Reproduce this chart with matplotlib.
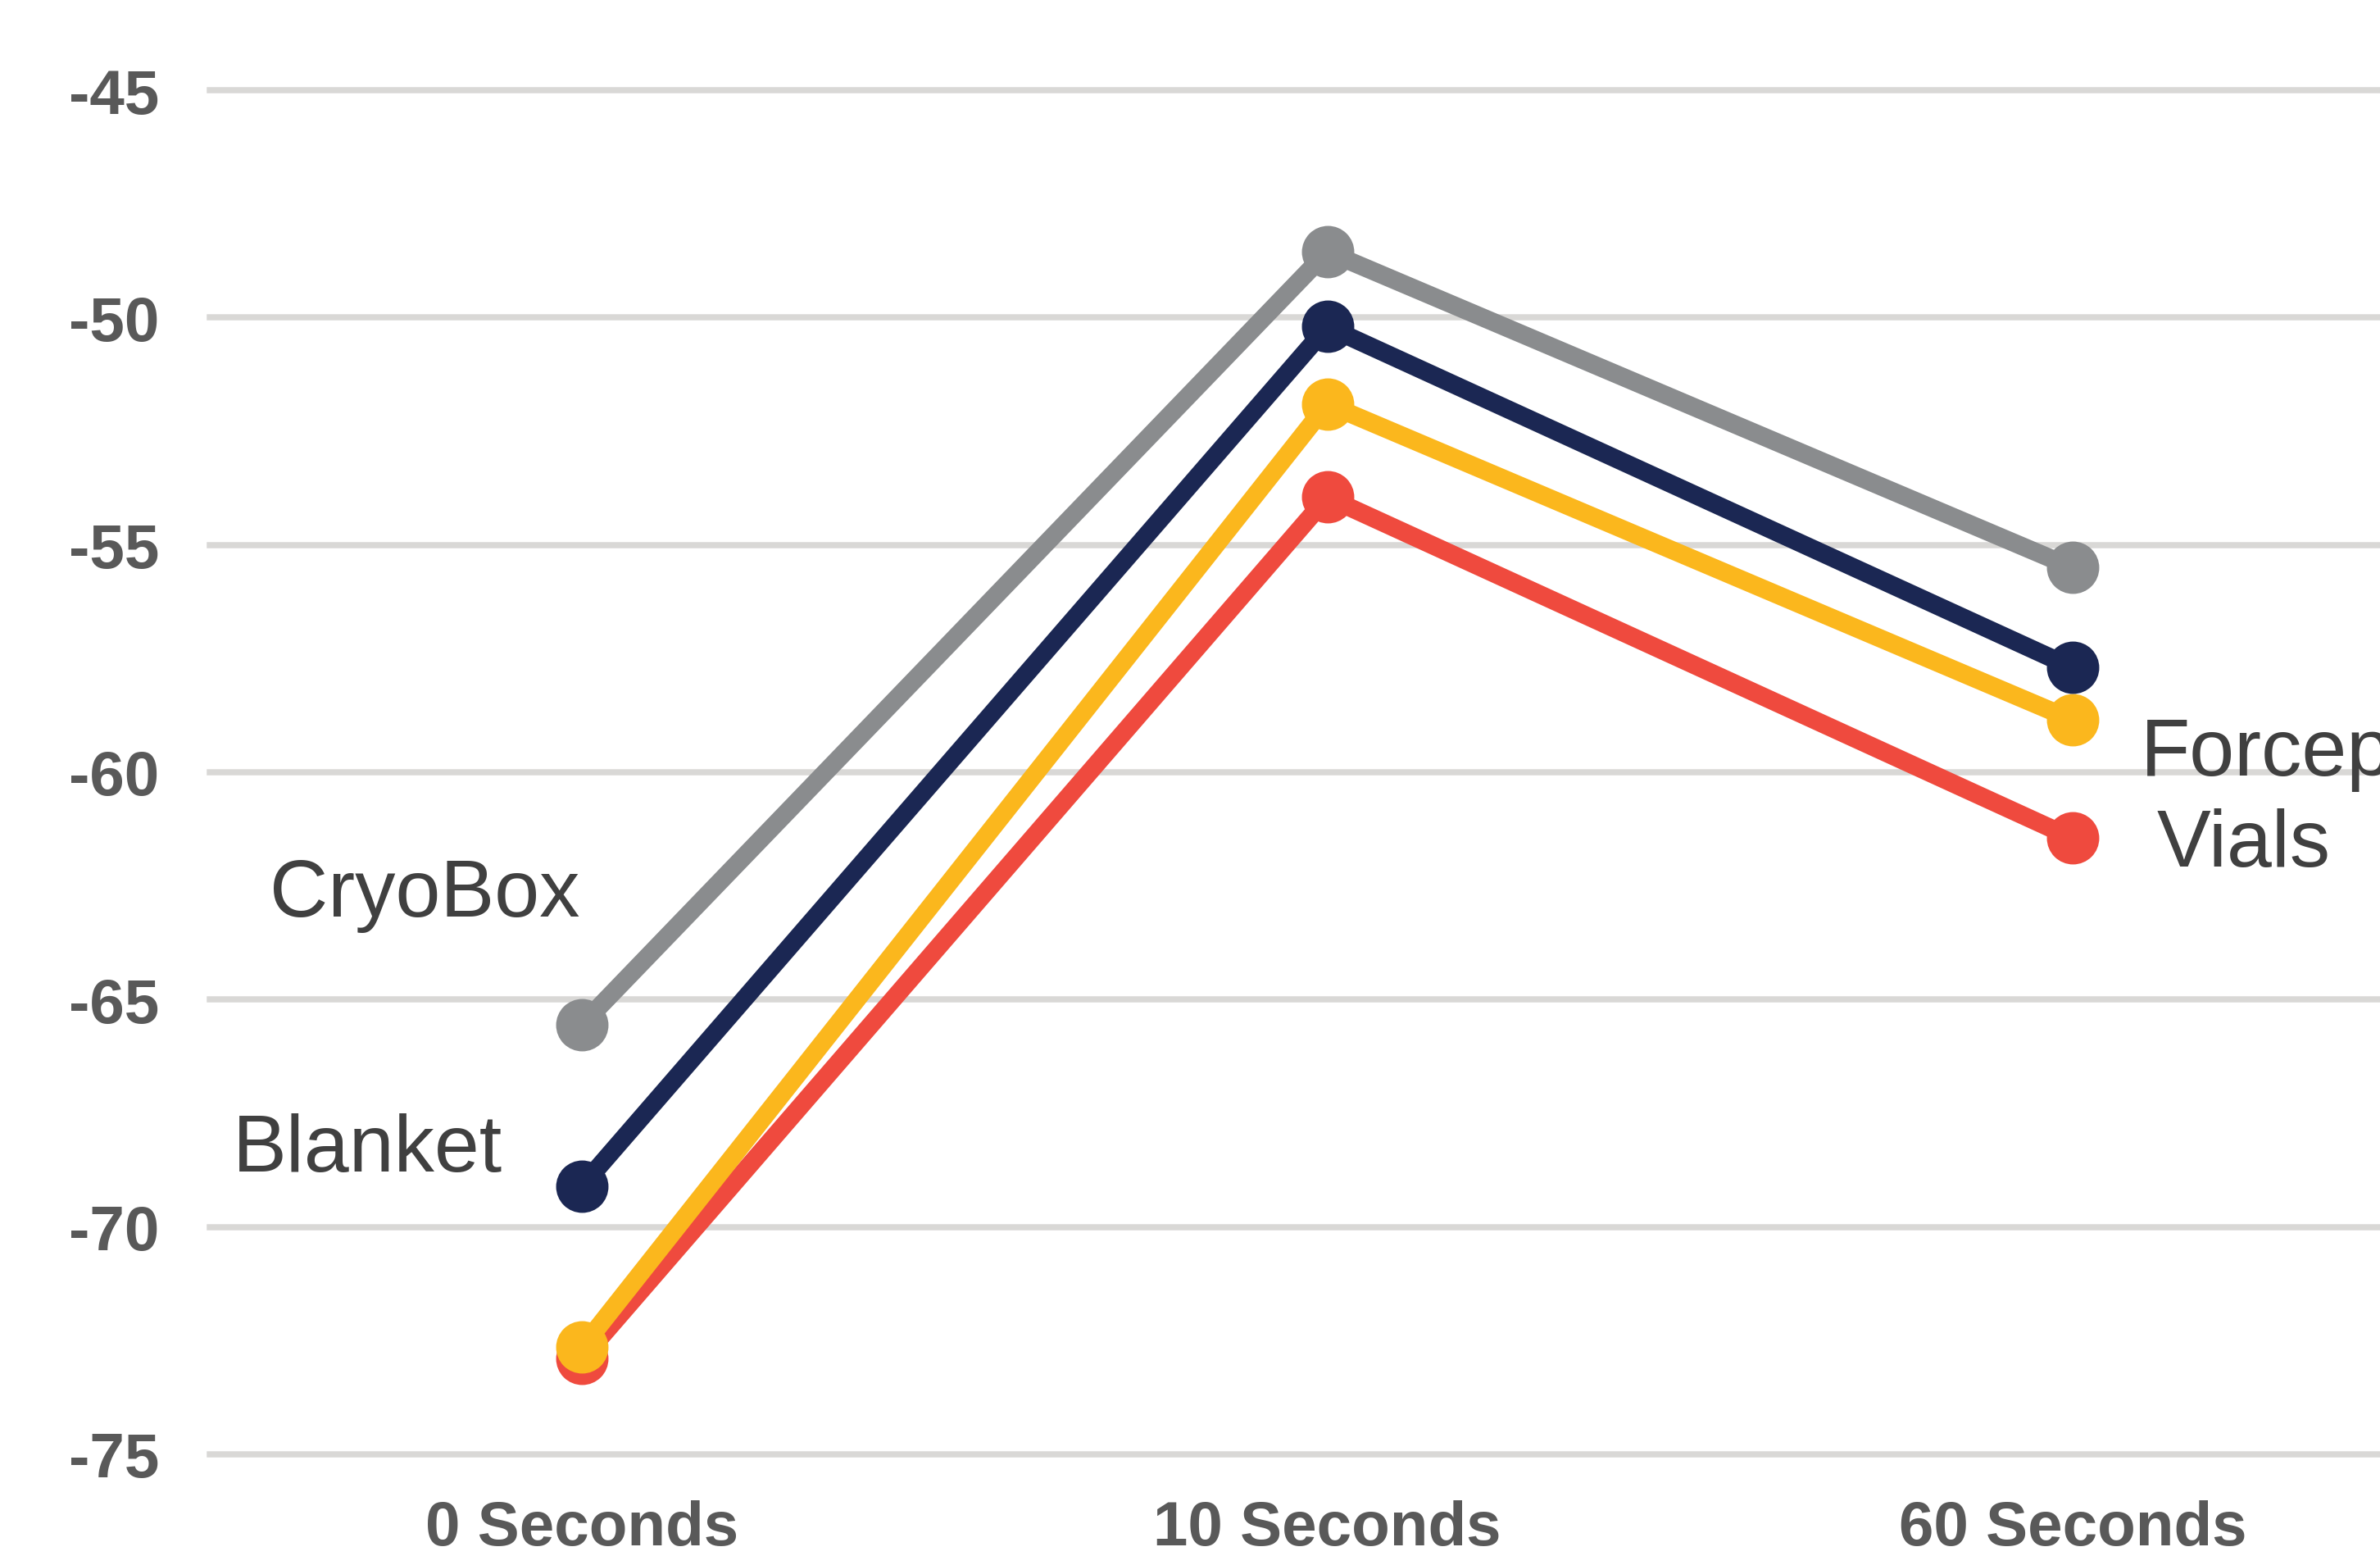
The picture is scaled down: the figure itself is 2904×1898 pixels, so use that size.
import matplotlib.pyplot as plt

plt.rcParams['font.family'] = ['Liberation Sans', 'DejaVu Sans']

## categorias y series
categorias = ["0 Seconds", "10 Seconds", "60 Seconds"]
cryobox = [-65.55, -48.55, -55.5]
blanket = [-69.1, -50.2, -57.7]
forceps = [-72.65, -51.9, -58.85]
vials = [-72.9, -53.95, -61.45]

nombres = ["CryoBox", "Blanket", "Forceps", "Vials"]
colores = ["#8A8C8E", "#1B2753", "#FBB71D", "#EF4A3E"]
yticks = [-75, -70, -65, -60, -55, -50, -45]

fig = plt.figure(figsize=(14.52, 9.495), dpi=200)
ax = fig.add_axes([0.088, 0.0654, 0.9394, 0.8761])

x = range(len(categorias))
series = [cryobox, blanket, forceps, vials]
## vials abajo, cryobox arriba (el amarillo tapa al rojo en 0 s)
for k, (ys, c) in enumerate(zip(series, colores)):
    ax.plot(x, ys, color=c, lw=8, marker='o', ms=22, clip_on=False,
            solid_capstyle='butt', zorder=10 - k)

## etiquetas de cada serie (izq = primer punto, der = ultimo punto)
ax.annotate(nombres[0], (0, cryobox[0]), xytext=(-1, 57), textcoords='offset points',
            ha='right', va='center', fontsize=35.5, color='#404040')
ax.annotate(nombres[1], (0, blanket[0]), xytext=(-35, 16), textcoords='offset points',
            ha='right', va='center', fontsize=35.5, color='#404040')
ax.annotate(nombres[2], (2, forceps[-1]), xytext=(30, -15), textcoords='offset points',
            ha='left', va='center', fontsize=35.5, color='#404040', annotation_clip=False)
ax.annotate(nombres[3], (2, vials[-1]), xytext=(37, -3), textcoords='offset points',
            ha='left', va='center', fontsize=35.5, color='#404040', annotation_clip=False)

ax.set_xlim(-0.5, 2.5)
ax.set_ylim(-75, -45)
ax.set_xticks(list(x))
ax.set_xticklabels(categorias)
ax.set_yticks(yticks)
ax.set_yticklabels([str(v) for v in yticks])
ax.tick_params(length=0, labelsize=27.5, labelcolor='#595959')
ax.tick_params(axis='y', pad=22)
ax.tick_params(axis='x', pad=20)
for lab in ax.get_xticklabels() + ax.get_yticklabels():
    lab.set_fontweight('bold')

ax.grid(True, axis='y', color='#D9D8D6', lw=2.7, clip_on=False)
ax.set_axisbelow(True)
for s in ax.spines.values():
    s.set_visible(False)

fig.savefig("out.png", dpi=200)
